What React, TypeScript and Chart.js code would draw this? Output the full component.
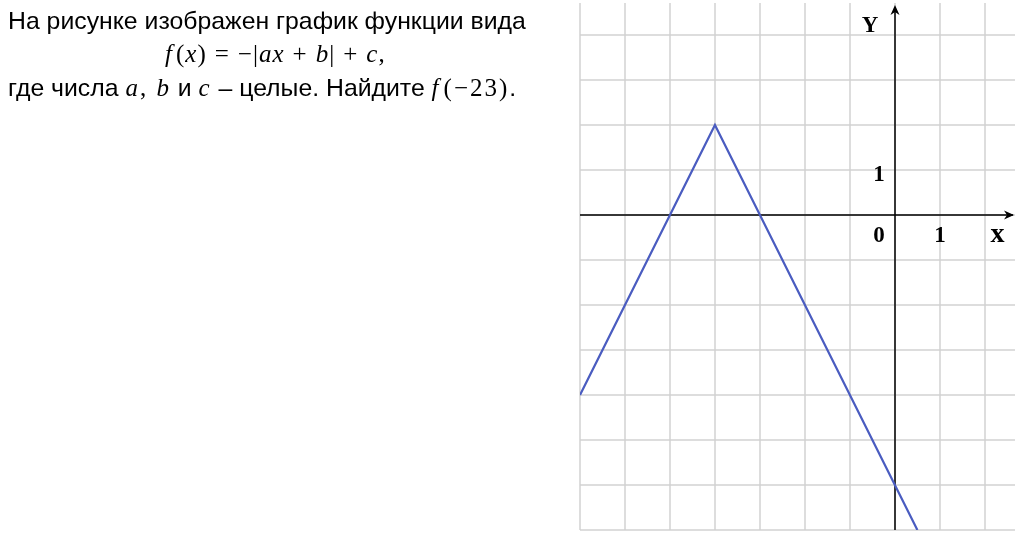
import React, { useEffect, useRef } from "react";
import { Chart, registerables } from "chart.js";

Chart.register(...registerables);

const xValues = [-7, -4, 0.5];
const yValues = [-4, 2, -7];
const xGridTicks = [-7, -6, -5, -4, -3, -2, -1, 0, 1, 2];
const yGridTicks = [-7, -6, -5, -4, -3, -2, -1, 0, 1, 2, 3, 4];
const xRange = [-7, 2.67];
const yRange = [-7, 4.71];

const gridPlugin = {
  id: "gridAxes",
  beforeDatasetsDraw(chart: any) {
    const { ctx, chartArea, scales } = chart;
    const xs = scales.x;
    const ys = scales.y;
    ctx.save();
    ctx.strokeStyle = "#d2d2d2";
    ctx.lineWidth = 1.5;
    xGridTicks.forEach((v) => {
      const px = Math.round(xs.getPixelForValue(v));
      ctx.beginPath();
      ctx.moveTo(px, chartArea.top);
      ctx.lineTo(px, chartArea.bottom);
      ctx.stroke();
    });
    yGridTicks.forEach((v) => {
      const py = Math.round(ys.getPixelForValue(v));
      ctx.beginPath();
      ctx.moveTo(chartArea.left, py);
      ctx.lineTo(chartArea.right, py);
      ctx.stroke();
    });
    const x0 = Math.round(xs.getPixelForValue(0));
    const y0 = Math.round(ys.getPixelForValue(0));
    ctx.strokeStyle = "#000";
    ctx.fillStyle = "#000";
    ctx.lineWidth = 1.5;
    ctx.beginPath();
    ctx.moveTo(x0, chartArea.bottom);
    ctx.lineTo(x0, chartArea.top + 4);
    ctx.stroke();
    ctx.beginPath();
    ctx.moveTo(chartArea.left, y0);
    ctx.lineTo(chartArea.right - 2, y0);
    ctx.stroke();
    const ty = chartArea.top + 2;
    ctx.beginPath();
    ctx.moveTo(x0, ty);
    ctx.lineTo(x0 - 4.5, ty + 10);
    ctx.lineTo(x0, ty + 7);
    ctx.lineTo(x0 + 4.5, ty + 10);
    ctx.closePath();
    ctx.fill();
    const tx = chartArea.right - 1;
    ctx.beginPath();
    ctx.moveTo(tx, y0);
    ctx.lineTo(tx - 10, y0 - 4.5);
    ctx.lineTo(tx - 7, y0);
    ctx.lineTo(tx - 10, y0 + 4.5);
    ctx.closePath();
    ctx.fill();
    ctx.font = "bold 23px 'Liberation Serif'";
    ctx.textAlign = "center";
    ctx.textBaseline = "middle";
    ctx.fillText("Y", x0 - 25, ys.getPixelForValue(4.2));
    ctx.fillText("1", x0 - 16, ys.getPixelForValue(0.88));
    ctx.fillText("0", x0 - 16, ys.getPixelForValue(-0.47));
    ctx.fillText("1", xs.getPixelForValue(1), ys.getPixelForValue(-0.47));
    ctx.font = "bold 28px 'Liberation Serif'";
    ctx.fillText("x", xs.getPixelForValue(2.28), ys.getPixelForValue(-0.45));
    ctx.restore();
  },
};

function ChartCanvas() {
  const ref = useRef<HTMLCanvasElement | null>(null);
  useEffect(() => {
    if (!ref.current) return;
    const chart = new Chart(ref.current, {
      type: "scatter",
      data: {
        datasets: [
          {
            data: xValues.map((x, i) => ({ x, y: yValues[i] })),
            showLine: true,
            borderColor: "#4a5cc0",
            borderWidth: 2.2,
            pointRadius: 0,
            fill: false,
          },
        ],
      },
      options: {
        animation: false,
        responsive: false,
        maintainAspectRatio: false,
        layout: { padding: { left: 580, right: 9, top: 3, bottom: 10 } },
        plugins: { legend: { display: false }, tooltip: { enabled: false } },
        scales: {
          x: { type: "linear", min: xRange[0], max: xRange[1], display: false },
          y: { type: "linear", min: yRange[0], max: yRange[1], display: false },
        },
      },
      plugins: [gridPlugin],
    });
    return () => chart.destroy();
  }, []);
  return (
    <canvas
      ref={ref}
      width={1024}
      height={540}
      style={{ position: "absolute", left: 0, top: 0, width: 1024, height: 540 }}
    />
  );
}

const textStyle: React.CSSProperties = {
  position: "absolute",
  fontFamily: "'Liberation Sans', Arial, sans-serif",
  fontSize: 24.8,
  lineHeight: "28px",
  color: "#000",
  whiteSpace: "nowrap",
};
const mathStyle: React.CSSProperties = {
  fontFamily: "'Liberation Serif', serif",
  fontSize: 25,
  letterSpacing: 1,
};
const op: React.CSSProperties = { display: "inline-block", margin: "0 8px" };
const sp: React.CSSProperties = { marginLeft: 3 };
const math3: React.CSSProperties = { ...mathStyle, letterSpacing: 2 };

export default function App() {
  return (
    <div style={{ position: "absolute", left: 0, top: 0, width: 1024, height: 540, background: "#fff", overflow: "hidden" }}>
      <ChartCanvas />
      <div style={{ ...textStyle, left: 8, top: 7 }}>На рисунке изображен график функции вида</div>
      <div style={{ ...textStyle, ...mathStyle, left: 165, top: 40 }}>
        <i>f</i><span style={sp}>(</span><i>x</i>)<span style={op}>=</span>−|<i>ax</i><span style={op}>+</span><i>b</i>|<span style={op}>+</span><i>c</i>,
      </div>
      <div style={{ ...textStyle, left: 8, top: 74 }}>
        где числа <span style={math3}><i>a</i>, <i>b</i></span> и <span style={math3}><i>c</i></span> – целые. Найдите{" "}
        <span style={math3}><i>f</i><span style={sp}>(</span>−23)</span>.
      </div>
    </div>
  );
}
